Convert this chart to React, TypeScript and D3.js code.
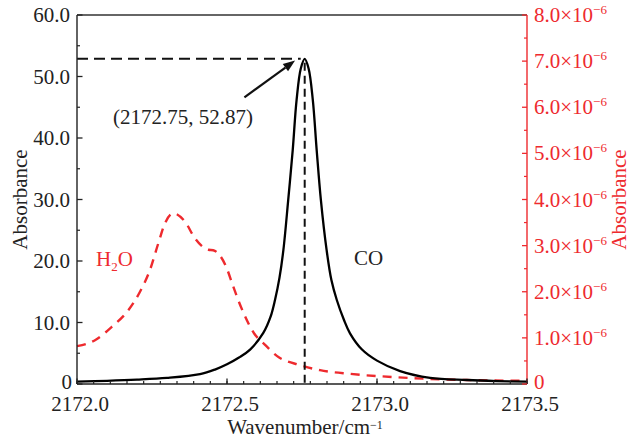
import React, { useRef, useEffect } from 'react';
import * as d3 from 'd3';

// CO absorbance (left axis)
const coWavenumber = [
  2172.0, 2172.1, 2172.2, 2172.3, 2172.41, 2172.46, 2172.5, 2172.54, 2172.577,
  2172.621, 2172.645, 2172.66, 2172.675, 2172.688, 2172.704, 2172.719, 2172.732,
  2172.746, 2172.759, 2172.772, 2172.786, 2172.799, 2172.813, 2172.832, 2172.848,
  2172.866, 2172.89, 2172.91, 2172.95, 2173.0, 2173.077, 2173.177, 2173.3, 2173.4, 2173.5,
];
const coAbsorbance = [
  0.4, 0.52, 0.7, 0.98, 1.6, 2.35, 3.2, 4.3, 5.6,
  8.3, 10.9, 13.66, 17.3, 21.8, 29.9, 38.0, 46.2,
  51.3, 52.87, 51.3, 46.2, 38.0, 29.9, 21.8, 16.9,
  13.66, 10.4, 8.24, 5.6, 3.8, 2.1, 1.0, 0.65, 0.48, 0.38,
];

// H2O absorbance (right axis, units of 1e-6)
const h2oWavenumber = [
  2172.0, 2172.06, 2172.116, 2172.171, 2172.21, 2172.243, 2172.271, 2172.293, 2172.321,
  2172.36, 2172.393, 2172.438, 2172.454, 2172.496, 2172.521, 2172.546, 2172.59, 2172.627,
  2172.666, 2172.743, 2172.81, 2172.91, 2173.054, 2173.177, 2173.299, 2173.432, 2173.5,
];
const h2oAbsorbance = [
  0.82, 0.95, 1.24, 1.6, 2.0, 2.47, 3.05, 3.48, 3.7,
  3.52, 3.16, 2.91, 2.9, 2.56, 2.11, 1.68, 1.1, 0.85,
  0.61, 0.41, 0.3, 0.22, 0.15, 0.11, 0.087, 0.072, 0.068,
];

const xMajorTicks = [2172.0, 2172.5, 2173.0, 2173.5];
const leftMajorTicks = [0, 10, 20, 30, 40, 50, 60];
const rightMajorTicks = [0, 1, 2, 3, 4, 5, 6, 7, 8];

const peakX = 2172.759;
const peakY = 52.87;
const peakLabel = '(2172.75, 52.87)';
const arrowFrom = [2172.558, 46.6];
const arrowTo = [2172.727, 52.6];

const RED = '#ee2a2e';
const FONT = '"Liberation Serif", "Times New Roman", serif';
const FS = 21;

const W = 628;
const H = 441;
const margin = { left: 77, right: 101, top: 15, bottom: 57 };

export default function App() {
  const svgRef = useRef<SVGSVGElement | null>(null);

  useEffect(() => {
    if (!svgRef.current) return;
    const svg = d3.select(svgRef.current);
    svg.selectAll('*').remove();

    const x0 = margin.left;
    const x1 = W - margin.right;
    const y0 = H - margin.bottom;
    const y1 = margin.top;

    const x = d3.scaleLinear().domain([2172.0, 2173.5]).range([x0, x1]);
    const yL = d3.scaleLinear().domain([0, 60]).range([y0, y1]);
    const yR = d3.scaleLinear().domain([0, 8]).range([y0, y1]);

    // --- curves ---
    const coData = coWavenumber.map((w, i) => [w, coAbsorbance[i]] as [number, number]);
    const h2oData = h2oWavenumber.map((w, i) => [w, h2oAbsorbance[i]] as [number, number]);

    const coLine = d3.line<[number, number]>()
      .x(d => x(d[0]))
      .y(d => yL(d[1]))
      .curve(d3.curveCatmullRom.alpha(0.5));
    const h2oLine = d3.line<[number, number]>()
      .x(d => x(d[0]))
      .y(d => yR(d[1]))
      .curve(d3.curveMonotoneX);

    svg.append('path')
      .datum(h2oData)
      .attr('d', h2oLine)
      .attr('fill', 'none')
      .attr('stroke', RED)
      .attr('stroke-width', 2.4)
      .attr('stroke-dasharray', '9,7');

    // reference dashed lines at the peak
    svg.append('line')
      .attr('x1', x0).attr('x2', x(peakX) - 4)
      .attr('y1', yL(peakY)).attr('y2', yL(peakY))
      .attr('stroke', '#111').attr('stroke-width', 2)
      .attr('stroke-dasharray', '11,6');
    svg.append('line')
      .attr('x1', x(peakX)).attr('x2', x(peakX))
      .attr('y1', yL(peakY) + 4).attr('y2', y0)
      .attr('stroke', '#111').attr('stroke-width', 2)
      .attr('stroke-dasharray', '8,5');

    svg.append('path')
      .datum(coData)
      .attr('d', coLine)
      .attr('fill', 'none')
      .attr('stroke', '#000')
      .attr('stroke-width', 2.3);

    // --- arrow annotation ---
    const ax1 = x(arrowFrom[0]), ay1 = yL(arrowFrom[1]);
    const ax2 = x(arrowTo[0]), ay2 = yL(arrowTo[1]);
    const ang = Math.atan2(ay2 - ay1, ax2 - ax1);
    const headLen = 12, headW = 4.5;
    const bx = ax2 - headLen * Math.cos(ang);
    const by = ay2 - headLen * Math.sin(ang);
    svg.append('line')
      .attr('x1', ax1).attr('y1', ay1).attr('x2', bx).attr('y2', by)
      .attr('stroke', '#111').attr('stroke-width', 2.2);
    svg.append('path')
      .attr('d', `M${ax2},${ay2} L${bx + headW * Math.sin(ang)},${by - headW * Math.cos(ang)} L${bx - headW * Math.sin(ang)},${by + headW * Math.cos(ang)} Z`)
      .attr('fill', '#111');

    svg.append('text')
      .attr('x', x(2172.12)).attr('y', yL(42.3))
      .attr('font-family', FONT).attr('font-size', FS).attr('fill', '#222')
      .text(peakLabel);

    // series labels
    const h2o = svg.append('text')
      .attr('x', 96).attr('y', 266)
      .attr('font-family', FONT).attr('font-size', FS).attr('fill', RED);
    h2o.append('tspan').text('H');
    h2o.append('tspan').attr('font-size', 13).attr('dy', 5).text('2');
    h2o.append('tspan').attr('dy', -5).text('O');

    svg.append('text')
      .attr('x', 354).attr('y', 265)
      .attr('font-family', FONT).attr('font-size', FS).attr('fill', '#222')
      .text('CO');

    // --- frame / axes ---
    svg.append('line').attr('x1', x0).attr('x2', x1).attr('y1', y1).attr('y2', y1)
      .attr('stroke', '#333').attr('stroke-width', 1.3);
    svg.append('line').attr('x1', x0).attr('x2', x1).attr('y1', y0).attr('y2', y0)
      .attr('stroke', '#222').attr('stroke-width', 1.4);
    svg.append('line').attr('x1', x0).attr('x2', x0).attr('y1', y1).attr('y2', y0)
      .attr('stroke', '#222').attr('stroke-width', 1.4);
    svg.append('line').attr('x1', x1).attr('x2', x1).attr('y1', y1).attr('y2', y0)
      .attr('stroke', RED).attr('stroke-width', 1.4);

    // x ticks (8 minor between majors)
    const xMinor = d3.range(0, 28).map(i => 2172.0 + i * 0.5 / 9);
    svg.selectAll('.x-minor').data(xMinor).enter().append('line')
      .attr('x1', d => x(d)).attr('x2', d => x(d))
      .attr('y1', y0).attr('y2', y0 - 3)
      .attr('stroke', '#222').attr('stroke-width', 1.2);
    svg.selectAll('.x-major').data(xMajorTicks).enter().append('line')
      .attr('x1', d => x(d)).attr('x2', d => x(d))
      .attr('y1', y0).attr('y2', y0 - 5.5)
      .attr('stroke', '#222').attr('stroke-width', 1.3);
    svg.selectAll('.x-label').data(xMajorTicks).enter().append('text')
      .attr('x', d => x(d) + 3).attr('y', y0 + 27)
      .attr('text-anchor', 'middle')
      .attr('font-family', FONT).attr('font-size', FS).attr('fill', '#222')
      .text(d => d.toFixed(1));

    // left ticks
    const leftMinor = d3.range(5, 60, 10);
    svg.selectAll('.l-minor').data(leftMinor).enter().append('line')
      .attr('x1', x0).attr('x2', x0 + 3)
      .attr('y1', d => yL(d)).attr('y2', d => yL(d))
      .attr('stroke', '#222').attr('stroke-width', 1.2);
    svg.selectAll('.l-major').data(leftMajorTicks).enter().append('line')
      .attr('x1', x0).attr('x2', x0 + 5.5)
      .attr('y1', d => yL(d)).attr('y2', d => yL(d))
      .attr('stroke', '#222').attr('stroke-width', 1.3);
    svg.selectAll('.l-label').data(leftMajorTicks).enter().append('text')
      .attr('x', d => (d === 0 ? x0 - 5 : x0 - 7)).attr('y', d => yL(d) + (d === 0 ? 5 : 7))
      .attr('text-anchor', 'end')
      .attr('font-family', FONT).attr('font-size', FS).attr('fill', '#222')
      .text(d => (d === 0 ? '0' : d.toFixed(1)));

    // right ticks
    const rightMinor = d3.range(0.5, 8, 1);
    svg.selectAll('.r-minor').data(rightMinor).enter().append('line')
      .attr('x1', x1).attr('x2', x1 - 3)
      .attr('y1', d => yR(d)).attr('y2', d => yR(d))
      .attr('stroke', RED).attr('stroke-width', 1.2);
    svg.selectAll('.r-major').data(rightMajorTicks).enter().append('line')
      .attr('x1', x1).attr('x2', x1 - 5)
      .attr('y1', d => yR(d)).attr('y2', d => yR(d))
      .attr('stroke', RED).attr('stroke-width', 1.3);
    const rLabels = svg.selectAll('.r-label').data(rightMajorTicks).enter().append('text')
      .attr('x', x1 + 7).attr('y', d => yR(d) + (d === 0 ? 5 : 7))
      .attr('font-family', FONT).attr('font-size', FS).attr('fill', RED);
    rLabels.each(function (d) {
      const t = d3.select(this);
      if (d === 0) {
        t.append('tspan').text('0');
      } else {
        t.append('tspan').text(`${d.toFixed(1)}×10`);
        t.append('tspan').attr('font-size', 13).attr('dy', -8).text('−6');
      }
    });

    // axis titles
    svg.append('text')
      .attr('transform', `translate(27, ${(y0 + y1) / 2}) rotate(-90)`)
      .attr('text-anchor', 'middle')
      .attr('font-family', FONT).attr('font-size', FS).attr('fill', '#222')
      .text('Absorbance');
    svg.append('text')
      .attr('transform', `translate(626, ${(y0 + y1) / 2}) rotate(-90)`)
      .attr('text-anchor', 'middle')
      .attr('font-family', FONT).attr('font-size', FS).attr('fill', RED)
      .text('Absorbance');
    const xt = svg.append('text')
      .attr('x', 305).attr('y', 434)
      .attr('text-anchor', 'middle')
      .attr('font-family', FONT).attr('font-size', FS).attr('fill', '#222');
    xt.append('tspan').text('Wavenumber/cm');
    xt.append('tspan').attr('font-size', 12).attr('dy', -5).text('−1');
  }, []);

  return (
    <svg
      ref={svgRef}
      width={W}
      height={H}
      style={{ position: 'absolute', left: 0, top: 0, background: '#fff', display: 'block' }}
    />
  );
}
